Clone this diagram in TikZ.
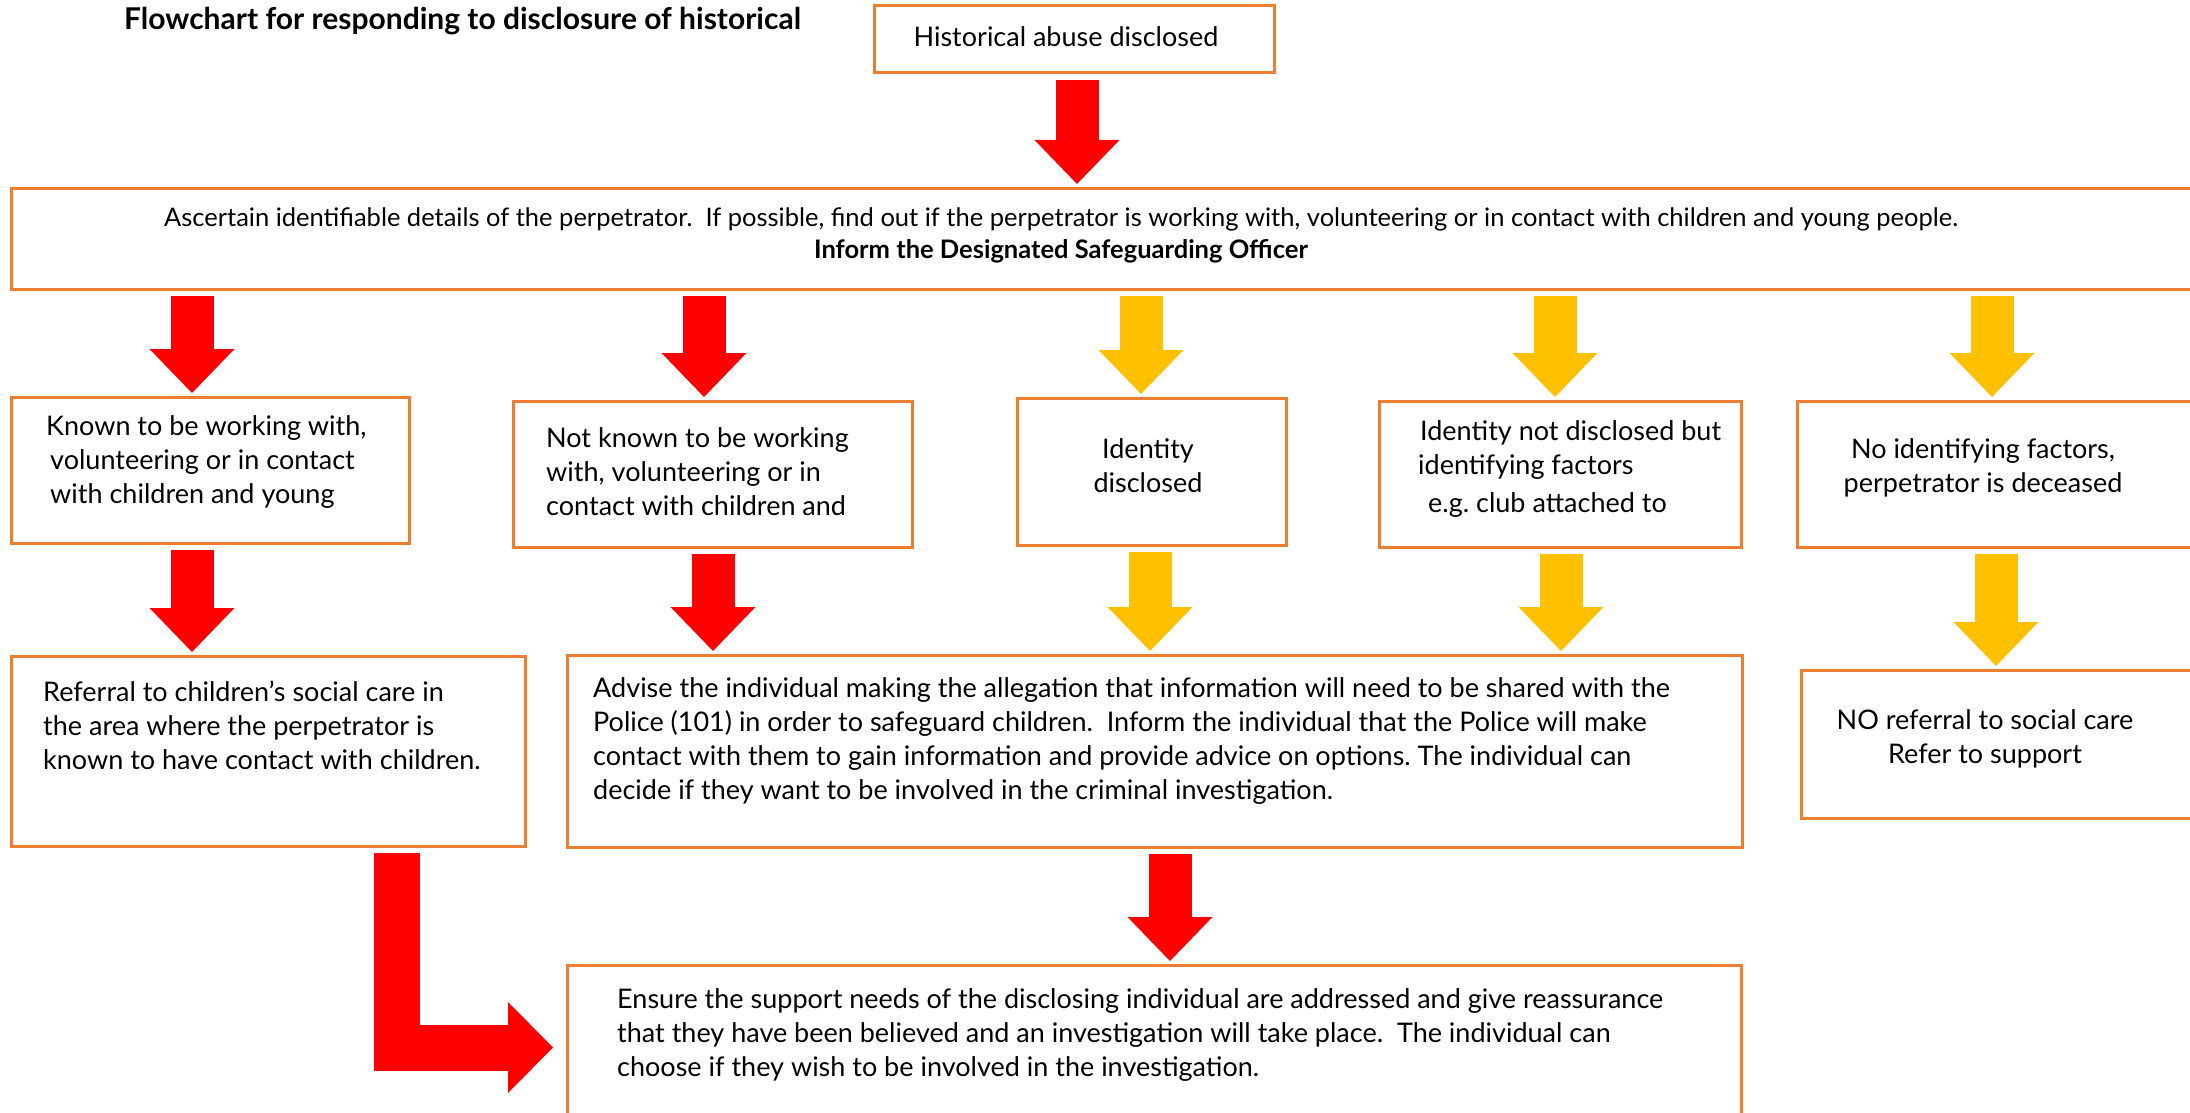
\documentclass[tikz,border=0pt]{standalone}
\usepackage{fontspec}
\setmainfont{Lato}
\usetikzlibrary{arrows.meta,calc}
\definecolor{boxorange}{HTML}{ED7D31}
\definecolor{arrowred}{HTML}{FF0000}
\definecolor{arrowyellow}{HTML}{FFC000}
\newcommand{\flowarrow}[4]{% colour, x, from, to
  \draw[blockarrow=#1] ($(#2,0 |- #3.south)+(0,7)$) -- ($(#2,0 |- #4.north)+(0,-4)$);}
\frenchspacing
\begin{document}
\begin{tikzpicture}[x=1pt,y=-1pt,
  box/.style={draw=boxorange,line width=3pt,outer sep=0pt,inner sep=0pt,anchor=north west},
  txt/.style={inner sep=0pt,align=left,font=\fontsize{27}{34}\selectfont},
  blockarrow/.style={draw=#1,line width=43pt,-{Triangle[width=85pt,length=44pt,line width=0pt]}}]
\useasboundingbox (0,0) rectangle (2190,1113);
\clip (0,0) rectangle (2190,1113);
% boxes
\node[box,minimum width=400pt,minimum height=67pt] (start) at (874,6) {};
\node[box,minimum width=2200pt,minimum height=101pt] (main) at (11,188) {};
\node[box,minimum width=398pt,minimum height=146pt] (known) at (11,397) {};
\node[box,minimum width=399pt,minimum height=146pt] (notknown) at (513,401) {};
\node[box,minimum width=269pt,minimum height=147pt] (ident) at (1017,398) {};
\node[box,minimum width=362pt,minimum height=146pt] (partial) at (1379,401) {};
\node[box,minimum width=403pt,minimum height=146pt] (noid) at (1797,401) {};
\node[box,minimum width=514pt,minimum height=190pt] (referral) at (11,656) {};
\node[box,minimum width=1175pt,minimum height=192pt] (advise) at (567,655) {};
\node[box,minimum width=399pt,minimum height=148pt] (noref) at (1801,670) {};
\node[box,minimum width=1174pt,minimum height=165pt] (ensure) at (567,965) {};
% texts
\node[txt,font=\fontsize{30}{34}\selectfont\bfseries,anchor=west] (title) at (124,21) {Flowchart for responding to disclosure of historical};
\node[txt] (starttxt) at (1066,37) {Historical abuse disclosed};
\node[txt,align=center,font=\fontsize{25.5}{32}\selectfont] (maintxt) at (1061,235) {Ascertain identifiable details of the perpetrator.\ \ If possible, find out if the perpetrator is working with, volunteering or in contact with children and young people.\\ \textbf{Inform the Designated Safeguarding Officer}};
\node[txt,anchor=west] (knowntxt) at (46,462) {Known to be working with,\\ \hspace*{4pt}volunteering or in contact\\ \hspace*{4pt}with children and young};
\node[txt,anchor=west] (notknowntxt) at (546,472) {Not known to be working\\ with, volunteering or in\\ contact with children and};
\node[txt,align=center] (identtxt) at (1148,466) {Identity\\ disclosed};
\node[txt,anchor=west] (partialtxt) at (1418,469) {\hspace*{2pt}Identity not disclosed but\\ identifying factors\\[4pt] \hspace*{10pt}e.g. club attached to};
\node[txt,align=center] (noidtxt) at (1983,468) {No identifying factors,\\ perpetrator is deceased};
\node[txt,anchor=west] (referraltxt) at (43,725) {Referral to children’s social care in\\ the area where the perpetrator is\\ known to have contact with children.};
\node[txt,anchor=west] (advisetxt) at (593,741) {Advise the individual making the allegation that information will need to be shared with the\\ Police (101) in order to safeguard children.\ \ Inform the individual that the Police will make\\ contact with them to gain information and provide advice on options. The individual can\\ decide if they want to be involved in the criminal investigation.};
\node[txt,align=center] (noreftxt) at (1985,739) {NO referral to social care\\ Refer to support};
\node[txt,anchor=west] (ensuretxt) at (617,1035) {Ensure the support needs of the disclosing individual are addressed and give reassurance\\ that they have been believed and an investigation will take place.\ \ The individual can\\ choose if they wish to be involved in the investigation.};
% arrows
\flowarrow{arrowred}{1077}{start}{main}
\foreach \x/\dest/\col in {192/known/arrowred,704/notknown/arrowred,1141/ident/arrowyellow,1555/partial/arrowyellow,1992/noid/arrowyellow}
  {\flowarrow{\col}{\x}{main}{\dest}}
\foreach \x/\src/\dest/\col in {192/known/referral/arrowred,713/notknown/advise/arrowred,1150/ident/advise/arrowyellow,1561/partial/advise/arrowyellow,1996/noid/noref/arrowyellow}
  {\flowarrow{\col}{\x}{\src}{\dest}}
\flowarrow{arrowred}{1170}{advise}{ensure}
\draw[blockarrow=arrowred,line width=46pt,line join=miter,-{Triangle[width=91pt,length=45pt,line width=0pt]}]
  ($(397,0 |- referral.south)+(0,7)$) |- ([xshift=-14pt]ensure.west);
\end{tikzpicture}
\end{document}
